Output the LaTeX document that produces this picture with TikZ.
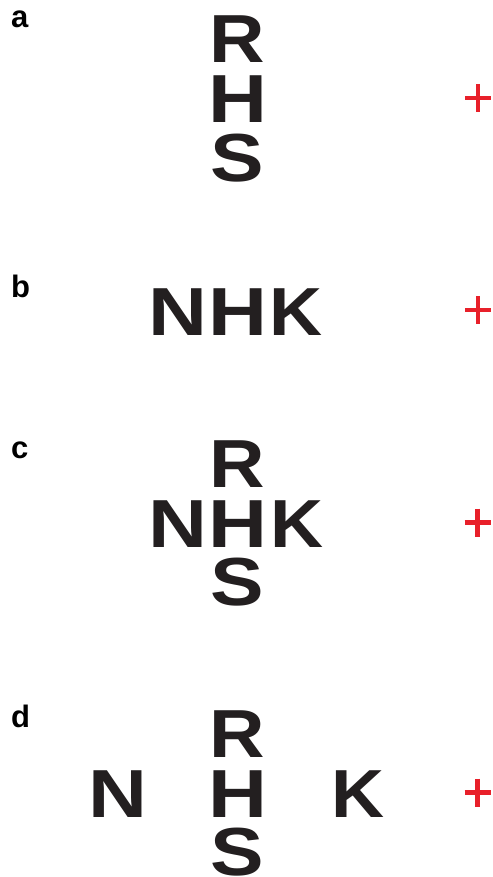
\documentclass[tikz,border=0pt]{standalone}
\usepackage{fontspec}
\setmainfont{Liberation Sans}
\definecolor{ink}{HTML}{231F20}
\definecolor{crossred}{HTML}{E8202A}
\begin{document}
\begin{tikzpicture}[x=1pt,y=-1pt,
  optotype/.style={anchor=base,inner sep=0pt,outer sep=0pt,text=ink,
    font=\bfseries\fontsize{68}{68}\selectfont},
  panel/.style={anchor=base west,inner sep=0pt,
    font=\bfseries\fontsize{31}{31}\selectfont},
  fixation/.style={draw=crossred,line width=4.5pt}]
\useasboundingbox (0,0) rectangle (492,877);
% widened letters so that every optotype is about as wide as it is tall
\newcommand{\optR}{\scalebox{1.13}[1]{R}}
\newcommand{\optH}{\scalebox{1.2}[1]{H}}
\newcommand{\optS}{\scalebox{1.18}[1]{S}}
\newcommand{\optN}{\scalebox{1.2}[1]{N}}
\newcommand{\optK}{\scalebox{1.08}[1]{K}}
\newcommand{\fixcross}[2]{%
  \draw[fixation] (#1-13,#2) -- (#1+13,#2);
  \draw[fixation] (#1,#2-14) -- (#1,#2+14);}

% panel labels
\node[panel] (la) at (11,27.5) {a};
\node[panel] (lb) at (11,297) {b};
\node[panel] (lc) at (11,458) {c};
\node[panel] (ld) at (11,727) {d};

% a: vertical column
\node[optotype] (aR) at (237.5,63) {\optR};
\node[optotype] (aH) at (237.5,122.5) {\optH};
\node[optotype] (aS) at (237.5,181.5) {\optS};
\fixcross{478}{98}

% b: horizontal row
\node[optotype] (bN) at (177.5,335) {\optN};
\node[optotype] (bH) at (237.5,335) {\optH};
\node[optotype] (bK) at (296.5,335) {\optK};
\fixcross{478}{310}

% c: cross arrangement
\node[optotype] (cR) at (237.5,487) {\optR};
\node[optotype] (cN) at (177.5,547) {\optN};
\node[optotype] (cH) at (237.5,547) {\optH};
\node[optotype] (cK) at (297,547) {\optK};
\node[optotype] (cS) at (237.5,605.5) {\optS};
\fixcross{477.5}{522.5}

% d: widely spaced flankers
\node[optotype] (dR) at (237.5,757) {\optR};
\node[optotype] (dN) at (118,817) {\optN};
\node[optotype] (dH) at (237.5,817) {\optH};
\node[optotype] (dK) at (358.5,817) {\optK};
\node[optotype] (dS) at (237.5,875) {\optS};
\fixcross{477.5}{792.5}
\end{tikzpicture}
\end{document}
